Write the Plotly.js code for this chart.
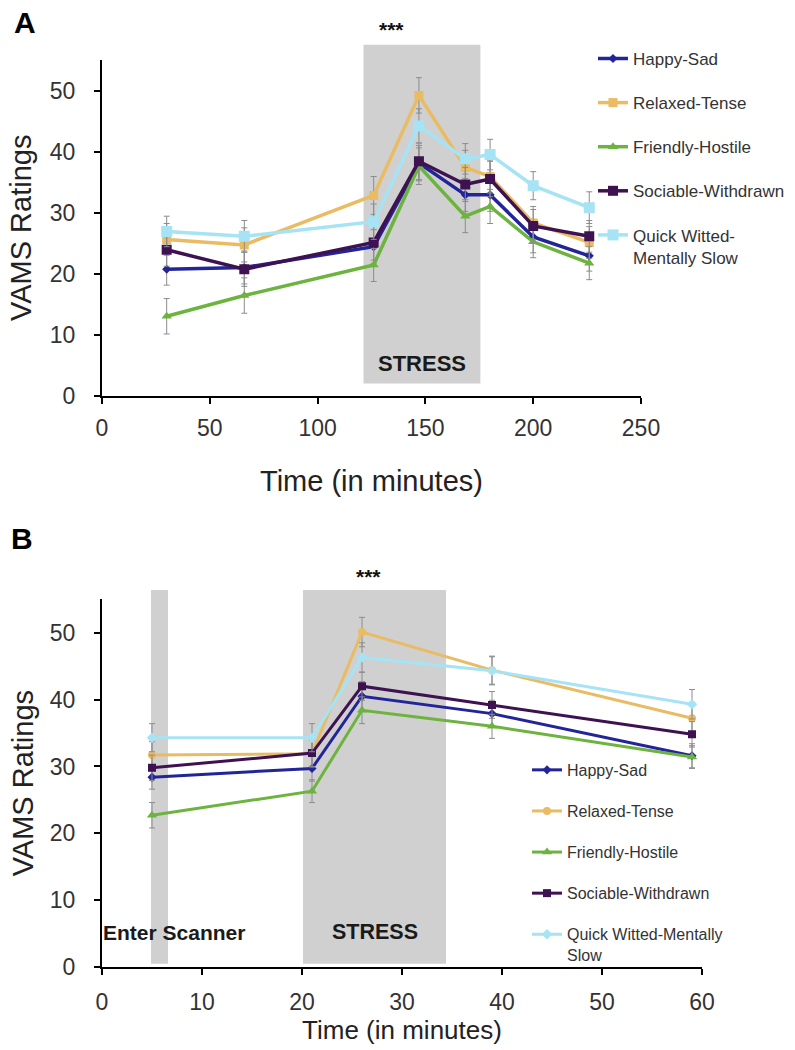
<!DOCTYPE html>
<html>
<head>
<meta charset="utf-8">
<script src="https://cdn.plot.ly/plotly-3.0.1.min.js"></script>
<style>
html,body{margin:0;padding:0;background:#fff;}
#chart{width:795px;height:1050px;}
</style>
</head>
<body>
<div id="chart"></div>
<script>
// ---------- DATA ----------
const seriesNames = ["Happy-Sad", "Relaxed-Tense", "Friendly-Hostile", "Sociable-Withdrawn", "Quick Witted-Mentally Slow"];

// Panel A
const timeA = [30, 66, 126, 147, 168.5, 180, 200, 226];
const happyA    = [20.7, 21.0, 24.4, 38.1, 32.9, 32.9, 26.0, 22.9];
const relaxedA  = [25.6, 24.7, 32.8, 49.2, 37.4, 35.9, 28.3, 25.1];
const friendlyA = [13.0, 16.4, 21.4, 37.6, 29.4, 31.0, 25.2, 21.7];
const sociableA = [23.9, 20.7, 25.1, 38.4, 34.6, 35.5, 27.8, 26.1];
const quickA    = [26.9, 26.1, 28.5, 44.2, 38.8, 39.5, 34.4, 30.8];
const happyAErr    = [2.6, 2.7, 2.8, 2.9, 2.7, 2.7, 2.6, 2.5];
const relaxedAErr  = [2.6, 2.8, 3.1, 2.9, 2.8, 2.7, 2.7, 2.6];
const friendlyAErr = [2.9, 2.9, 2.7, 3.0, 2.7, 2.8, 2.6, 2.7];
const sociableAErr = [2.7, 2.8, 2.9, 3.0, 2.8, 2.9, 2.7, 2.6];
const quickAErr    = [2.5, 2.6, 2.9, 2.8, 2.5, 2.5, 2.3, 2.6];
const stressA = [121.3, 175.5];

// Panel B
const timeB = [5, 21, 26, 39, 59];
const happyB    = [28.4, 29.7, 40.5, 37.9, 31.6];
const relaxedB  = [31.7, 31.9, 50.1, 44.4, 37.2];
const friendlyB = [22.7, 26.3, 38.4, 36.0, 31.4];
const sociableB = [29.8, 32.0, 42.0, 39.2, 34.8];
const quickB    = [34.3, 34.3, 46.3, 44.3, 39.3];
const happyBErr    = [1.8, 1.9, 2.2, 2.0, 1.8];
const relaxedBErr  = [2.0, 2.0, 2.2, 2.1, 2.0];
const friendlyBErr = [1.9, 1.7, 2.0, 1.8, 1.7];
const sociableBErr = [1.9, 2.0, 2.1, 2.0, 1.9];
const quickBErr    = [2.1, 2.1, 2.2, 2.1, 2.2];
const scannerB = [4.9, 6.6];
const stressB = [20.1, 34.4];

const xTicksA = [0, 50, 100, 150, 200, 250];
const xTicksB = [0, 10, 20, 30, 40, 50, 60];
const yTicks = [0, 10, 20, 30, 40, 50];

// ---------- STYLE ----------
const FONT = "Liberation Sans, Arial, Helvetica, sans-serif";
const colors = ["#22249a", "#e9bb62", "#6db33f", "#3e1250", "#a6e3f4"];
const symbolsA = ["diamond", "square", "triangle-up", "square", "square"];
const sizesA = [7, 9, 9, 10, 11];
const symbolsB = ["diamond", "circle", "triangle-up", "square", "diamond"];
const sizesB = [7, 8, 9, 8, 8];

const ysA = [happyA, relaxedA, friendlyA, sociableA, quickA];
const errA = [happyAErr, relaxedAErr, friendlyAErr, sociableAErr, quickAErr];
const ysB = [happyB, relaxedB, friendlyB, sociableB, quickB];
const errB = [happyBErr, relaxedBErr, friendlyBErr, sociableBErr, quickBErr];
const legendNamesA = ["Happy-Sad", "Relaxed-Tense", "Friendly-Hostile", "Sociable-Withdrawn", "Quick Witted-<br>Mentally Slow"];
const legendNamesB = ["Happy-Sad", "Relaxed-Tense", "Friendly-Hostile", "Sociable-Withdrawn", "Quick Witted-Mentally<br>Slow"];

const traces = [];
for (let i = 0; i < 5; i++) {
  traces.push({
    x: timeA, y: ysA[i], name: legendNamesA[i], type: "scatter", mode: "lines+markers",
    xaxis: "x", yaxis: "y", legend: "legend", legendgroup: "a" + i,
    line: {color: colors[i], width: 3.5},
    marker: {color: colors[i], symbol: symbolsA[i], size: sizesA[i]},
    error_y: {type: "data", array: errA[i], visible: true, color: "#8c8c8c", thickness: 1, width: 3}
  });
}
for (let i = 0; i < 5; i++) {
  traces.push({
    x: timeB, y: ysB[i], name: legendNamesB[i], type: "scatter", mode: "lines+markers",
    xaxis: "x2", yaxis: "y2", legend: "legend2", legendgroup: "b" + i,
    line: {color: colors[i], width: 3},
    marker: {color: colors[i], symbol: symbolsB[i], size: sizesB[i]},
    error_y: {type: "data", array: errB[i], visible: true, color: "#8c8c8c", thickness: 1, width: 3}
  });
}

const rangeXA = [0, 250], rangeXB = [0, 60], rangeY = [0, 55];
function fx(v, r) { return (v - r[0]) / (r[1] - r[0]); }
function fy(v) { return (v - rangeY[0]) / (rangeY[1] - rangeY[0]); }

const shapes = [
  {type: "rect", xref: "x domain", yref: "y domain", x0: fx(stressA[0], rangeXA), x1: fx(stressA[1], rangeXA),
   y0: fy(2), y1: fy(57.5), fillcolor: "#d0d0d0", line: {width: 0}, layer: "below"},
  {type: "rect", xref: "x2 domain", yref: "y2 domain", x0: fx(scannerB[0], rangeXB), x1: fx(scannerB[1], rangeXB),
   y0: fy(0.5), y1: fy(56.4), fillcolor: "#d0d0d0", line: {width: 0}, layer: "below"},
  {type: "rect", xref: "x2 domain", yref: "y2 domain", x0: fx(stressB[0], rangeXB), x1: fx(stressB[1], rangeXB),
   y0: fy(0.5), y1: fy(56.4), fillcolor: "#d0d0d0", line: {width: 0}, layer: "below"}
];

const annotations = [
  {text: "<b>A</b>", xref: "paper", yref: "paper", x: -0.1111, y: 1.0408, xanchor: "center", yanchor: "middle", showarrow: false, font: {family: FONT, size: 30, color: "#000"}},
  {text: "<b>B</b>", xref: "paper", yref: "paper", x: -0.1154, y: 0.4719, xanchor: "center", yanchor: "middle", showarrow: false, font: {family: FONT, size: 30, color: "#000"}},
  {text: "<b>***</b>", xref: "x", yref: "paper", x: 134.5, y: 1.0336, xanchor: "center", yanchor: "middle", showarrow: false, font: {family: FONT, size: 21, color: "#111"}},
  {text: "<b>***</b>", xref: "x2", yref: "paper", x: 26.6, y: 0.4305, xanchor: "center", yanchor: "middle", showarrow: false, font: {family: FONT, size: 21, color: "#111"}},
  {text: "<b>STRESS</b>", xref: "x", yref: "y", x: 148.4, y: 5.3, xanchor: "center", yanchor: "middle", showarrow: false, font: {family: FONT, size: 22, color: "#1a1a1a"}},
  {text: "<b>Enter Scanner</b>", xref: "x2", yref: "y2", x: 7.2, y: 5.2, xanchor: "center", yanchor: "middle", showarrow: false, font: {family: FONT, size: 21, color: "#1a1a1a"}},
  {text: "<b>STRESS</b>", xref: "x2", yref: "y2", x: 27.3, y: 5.2, xanchor: "center", yanchor: "middle", showarrow: false, font: {family: FONT, size: 21.5, color: "#1a1a1a"}}
];

const tickFont = {family: FONT, size: 23, color: "#333"};
const axisCommon = {
  showline: true, linecolor: "#000", linewidth: 2, ticks: "outside", ticklen: 6, tickwidth: 2, tickcolor: "#000",
  showgrid: false, zeroline: false, tickfont: tickFont
};

const layout = {
  width: 795, height: 1050,
  margin: {l: 102, r: 0, t: 60, b: 83},
  paper_bgcolor: "#fff", plot_bgcolor: "rgba(0,0,0,0)",
  font: {family: FONT, color: "#333"},
  xaxis: Object.assign({}, axisCommon, {domain: [0, 539/693], range: rangeXA, tickvals: xTicksA, anchor: "y",
    ticklabelstandoff: 5,
    title: {text: "Time (in minutes)", font: {family: FONT, size: 29, color: "#222"}, standoff: 31}}),
  yaxis: Object.assign({}, axisCommon, {domain: [0.630, 1], range: rangeY, tickvals: yTicks, anchor: "x",
    ticklabelstandoff: 14,
    title: {text: "VAMS Ratings", font: {family: FONT, size: 29, color: "#222"}, standoff: 10}}),
  xaxis2: Object.assign({}, axisCommon, {domain: [0, 600/693], range: rangeXB, tickvals: xTicksB, anchor: "y2",
    ticklabelstandoff: 7,
    title: {text: "Time (in minutes)", font: {family: FONT, size: 26, color: "#222"}, standoff: 1}}),
  yaxis2: Object.assign({}, axisCommon, {domain: [0, 0.4054], range: rangeY, tickvals: yTicks, anchor: "x2",
    ticklabelstandoff: 14,
    title: {text: "VAMS Ratings", font: {family: FONT, size: 29, color: "#222"}, standoff: 8}}),
  legend: {x: 0.7085, xanchor: "left", y: 1.021, yanchor: "top", bgcolor: "rgba(0,0,0,0)",
    font: {family: FONT, size: 17, color: "#333"}, tracegroupgap: 19, valign: "top", itemwidth: 30},
  legend2: {x: 0.6133, xanchor: "left", y: 0.236, yanchor: "top", bgcolor: "rgba(0,0,0,0)",
    font: {family: FONT, size: 16, color: "#333"}, tracegroupgap: 17.3, valign: "top", itemwidth: 30},
  shapes: shapes,
  annotations: annotations,
  showlegend: true
};

Plotly.newPlot("chart", traces, layout, {displayModeBar: false, staticPlot: true});
</script>
</body>
</html>
